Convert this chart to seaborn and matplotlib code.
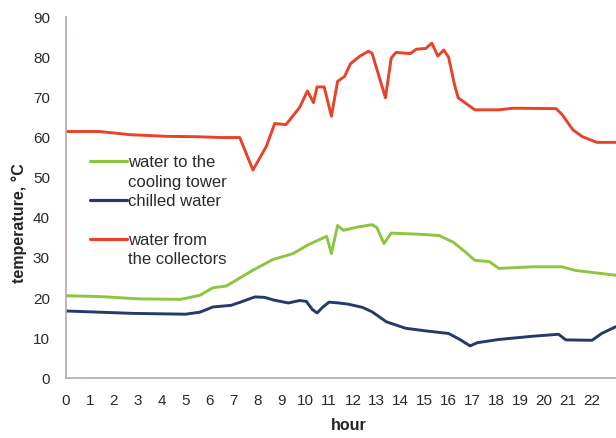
import numpy as np
import pandas as pd
import matplotlib
matplotlib.use("Agg")
import matplotlib.pyplot as plt
import seaborn as sns

# ---- data ----
red_hours = [0, 1.4, 2.7, 4.2, 5.5, 6.5, 7.27, 7.82, 8.38, 8.73, 9.2, 9.77, 10.1, 10.35, 10.5,
             10.8, 11.1, 11.36, 11.65, 11.9, 12.3, 12.65, 12.8, 13.36, 13.6, 13.8, 14.4, 14.65,
             15.05, 15.3, 15.55, 15.8, 16.0, 16.25, 16.4, 16.7, 17.1, 18.1, 18.7, 20.5, 20.75,
             21.2, 21.6, 22.2, 23]
red_temps = [61.5, 61.5, 60.7, 60.3, 60.2, 60.0, 60.0, 51.9, 57.8, 63.5, 63.2, 67.5, 71.6, 68.7, 72.6,
             72.6, 65.3, 74.0, 75.2, 78.4, 80.3, 81.5, 81.0, 69.9, 79.8, 81.2, 80.9, 82.0,
             82.2, 83.5, 80.3, 81.8, 80.0, 73.1, 69.9, 68.6, 66.9, 66.9, 67.3, 67.2, 65.7,
             61.9, 60.2, 58.8, 58.8]

green_hours = [0, 1.4, 3.1, 4.8, 5.6, 6.15, 6.7, 7.1, 7.8, 8.65, 9.5, 10.1, 10.9, 11.1, 11.36,
               11.6, 12.2, 12.8, 13.0, 13.3, 13.6, 14.8, 15.6, 16.2, 16.7, 17.1, 17.7, 18.1,
               19.5, 20.75, 21.3, 23]
green_temps = [20.6, 20.4, 19.8, 19.7, 20.7, 22.6, 23.0, 24.4, 26.9, 29.6, 31.1, 33.2, 35.4, 31.1, 38.1,
               36.9, 37.7, 38.3, 37.6, 33.6, 36.2, 35.9, 35.6, 33.9, 31.5, 29.4, 29.1, 27.4,
               27.8, 27.8, 26.9, 25.7]

blue_hours = [0, 2.8, 5.0, 5.6, 6.15, 6.9, 7.3, 7.9, 8.3, 8.7, 9.3, 9.77, 10.05, 10.3, 10.5,
              10.75, 11.0, 11.4, 11.8, 12.4, 12.8, 13.4, 14.2, 15.1, 16.0, 16.5, 16.9, 17.2,
              18.1, 19.5, 20.6, 20.9, 22.0, 22.4, 23]
blue_temps = [16.8, 16.2, 16.0, 16.5, 17.8, 18.2, 19.0, 20.3, 20.2, 19.5, 18.8, 19.4, 19.2, 17.2, 16.3,
              17.8, 19.0, 18.8, 18.5, 17.7, 16.6, 14.1, 12.5, 11.8, 11.2, 9.6, 8.1, 8.9,
              9.7, 10.5, 11.0, 9.6, 9.5, 11.2, 12.9]

series_names = ["water to the\ncooling tower", "chilled water\n", "water from\nthe collectors"]
series_colors = ["#8cc63e", "#27386b", "#e8432a"]
x_ticks = list(range(0, 23))
y_ticks = list(range(0, 91, 10))

df = pd.concat([
    pd.DataFrame({"hour": green_hours, "temp": green_temps, "series": series_names[0]}),
    pd.DataFrame({"hour": blue_hours, "temp": blue_temps, "series": series_names[1]}),
    pd.DataFrame({"hour": red_hours, "temp": red_temps, "series": series_names[2]}),
], ignore_index=True)

sns.set_style("white")
plt.rcParams["font.family"] = ["Liberation Sans", "DejaVu Sans"]

fig = plt.figure(figsize=(6.16, 4.38), dpi=100)
ax = fig.add_axes([0.107, 0.136, 0.893, 0.825])

sns.lineplot(data=df, x="hour", y="temp", hue="series", hue_order=series_names,
             palette=dict(zip(series_names, series_colors)), linewidth=2.1,
             sort=False, estimator=None, ax=ax)

ax.set_xlim(0, 23)
ax.set_ylim(0, 90)
ax.set_xticks(x_ticks)
ax.set_yticks(y_ticks)
spine_col = "#b8a8a8"
for s in ["top", "right"]:
    ax.spines[s].set_visible(False)
for s in ["left", "bottom"]:
    ax.spines[s].set_color(spine_col)
    ax.spines[s].set_linewidth(1.2)
ax.tick_params(axis="both", direction="inout", length=5, width=1, color=spine_col,
               labelsize=11, labelcolor="#2a2a2a", pad=9)
ax.set_xlabel("hour", fontsize=11.5, fontweight="bold", color="#222222", va="top")
ax.set_ylabel("temperature, °C", fontsize=11.5, fontweight="bold", color="#222222")
ax.xaxis.set_label_coords(0.515, -0.109)
ax.yaxis.set_label_coords(-0.071, 0.43)

leg = ax.legend(loc="upper left", bbox_to_anchor=(0.044, 0.619), frameon=False,
                fontsize=12, handlelength=2.2, handletextpad=0.05, labelspacing=0.25,
                borderpad=0, borderaxespad=0)
for col in leg._legend_handle_box.get_children():
    for hp in col.get_children():
        hp.align = "top"
for t in leg.get_texts():
    t.set_color("#2a2a2a")
    t.set_linespacing(1.4)
for h in leg.get_lines():
    h.set_linewidth(2.3)

fig.savefig("out.png", dpi=100)
